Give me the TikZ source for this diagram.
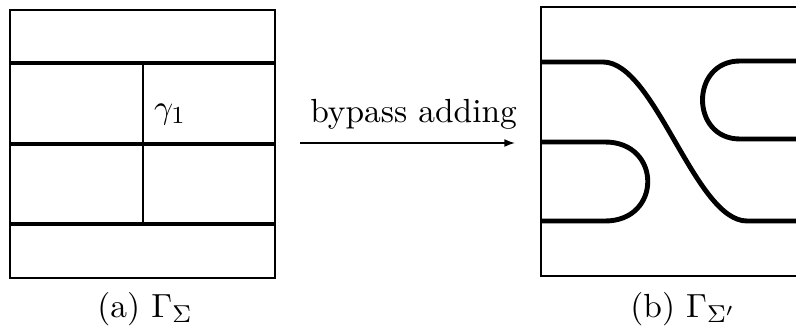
\documentclass[tikz,border=0pt]{standalone}
\usepackage{amsmath,amssymb}
\usepackage{tikz}
\usetikzlibrary{arrows.meta, positioning}

\begin{document}
\begin{tikzpicture}[x=0.0115cm, y=-0.0115cm,
    font=\fontsize{10.95}{13}\selectfont,
    frame/.style={line width=0.65pt},
    curve/.style={line width=1.6pt},
    arc1/.style={line width=0.9pt}]
  \useasboundingbox (0,0) rectangle (796,330);
  % (a) the dividing set before
  \draw[frame] (10,10) rectangle (275,278);
  \foreach \y in {63,144,224}
    \draw[curve] (10,\y) -- (275,\y);
  \coordinate (gtop) at (143,63);
  \coordinate (gbot) at (143,224);
  \draw[arc1] (gtop) -- (gbot);
  \node (gamma) at (170,115) {$\gamma_1$};
  \node (capa) at (145,309) {(a) $\Gamma_\Sigma$};
  % Arrow
  \coordinate (arrL) at (300,143);
  \coordinate (arrR) at (515,143);
  \draw[-{Latex[length=3.5pt,width=2.6pt]}, line width=0.5pt] (arrL) --
    node[above=1pt, xshift=2pt] (lbl) {bypass adding} (arrR);
  % (b) the dividing set after
  \draw[frame] (796,7) -- (541,7) -- (541,276) -- (796,276);
  \draw[curve] (541,62) -- (603,62) .. controls (655,62) and (695,221)
    .. (747,221) -- (796,221);
  \draw[curve] (541,142) -- (605,142) .. controls (662,142) and (662,221)
    .. (605,221) -- (541,221);
  \draw[curve] (796,61) -- (740,61) .. controls (690,61) and (690,139)
    .. (740,139) -- (796,139);
  \node (capb) at (683,309) {(b) $\Gamma_{\Sigma'}$};
\end{tikzpicture}
\end{document}
